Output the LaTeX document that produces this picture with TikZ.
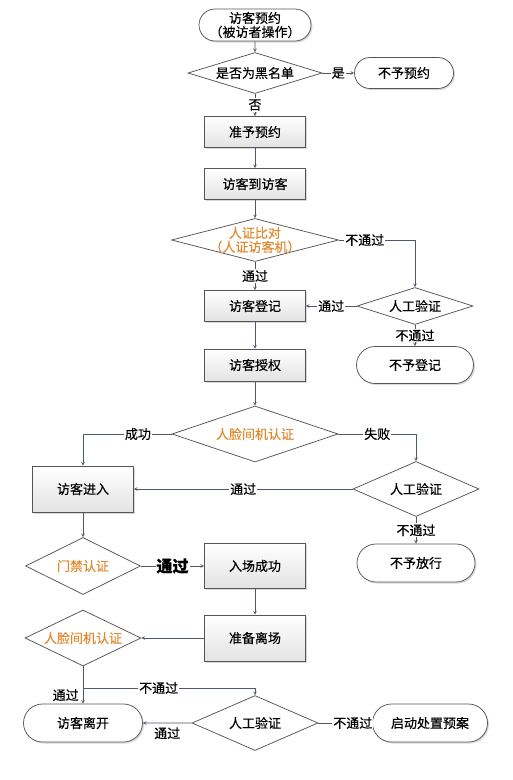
\documentclass[tikz,border=0pt]{standalone}
\usepackage{fontspec}
\setmainfont{Noto Sans CJK SC}[FakeBold=0.4]
\usetikzlibrary{shapes.geometric,shapes.misc,shadows}
\definecolor{xian}{RGB}{78,90,104}
\definecolor{kuang}{RGB}{85,85,85}
\definecolor{cheng}{RGB}{226,138,48}
\tikzset{every picture/.style={line width=0.75pt}}
\tikzset{
  yinying/.style={drop shadow={opacity=0.3,shadow xshift=1.5pt,shadow yshift=-1.5pt}},
  kaishi/.style={rounded rectangle,draw=kuang,fill=white,inner sep=1pt,yinying},
  buzhou/.style={rectangle,draw=kuang,top color=white,bottom color=gray!22,inner sep=1pt,yinying},
  panduan/.style={diamond,draw=kuang,fill=white,inner sep=0pt},
  jiantou/.style={->,>=stealth,xian,semithick},
  biaoqian/.style={fill=white,inner sep=1pt,text=black},
}

\begin{document}
\begin{tikzpicture}[x=1pt,y=-1pt,font=\fontsize{13}{15}\selectfont]
\useasboundingbox (0,0) rectangle (512,780);
\fill[white] (0,0) rectangle (512,780); %背景
% 第一列
\node[kaishi,minimum width=114pt,minimum height=32pt,align=center,font=\fontsize{13}{14}\selectfont] (yuyue) at (255,25) {访客预约\\（被访者操作）};
\node[panduan,minimum width=134pt,minimum height=41pt,label={center:是否为黑名单}] (heimingdan) at (255,73) {};
\node[kaishi,minimum width=101pt,minimum height=31pt] (buyu) at (404,73) {不予预约};
\node[buzhou,minimum width=101pt,minimum height=31pt] (zhunyu) at (255,132) {准予预约};
\node[buzhou,minimum width=101pt,minimum height=31pt] (daofang) at (255,184) {访客到访客};
\node[panduan,minimum width=167pt,minimum height=43pt,label={[text=cheng,align=center,font=\fontsize{13}{14}\selectfont]center:人证比对\\（人证访客机）}] (renzheng) at (255,240) {};
\node[panduan,minimum width=116pt,minimum height=37pt,label={center:人工验证}] (rengong1) at (415,306) {};
\node[buzhou,minimum width=101pt,minimum height=31pt] (dengji) at (255,306) {访客登记};
\node[kaishi,minimum width=119pt,minimum height=37pt] (budengji) at (415,365) {不予登记};
\node[buzhou,minimum width=101pt,minimum height=32pt] (shouquan) at (255,365) {访客授权};
\node[panduan,minimum width=166pt,minimum height=56pt,label={[text=cheng]center:人脸间机认证}] (renlian1) at (255,434) {};
% 入场
\node[buzhou,minimum width=101pt,minimum height=46pt] (jinru) at (83,489) {访客进入};
\node[panduan,minimum width=126pt,minimum height=55pt,label={center:人工验证}] (rengong2) at (416,489) {};
\node[kaishi,minimum width=120pt,minimum height=38pt] (bufangxing) at (416,563) {不予放行};
\node[panduan,minimum width=115pt,minimum height=57pt,label={[text=cheng]center:门禁认证}] (menjin) at (83,566) {};
\node[buzhou,minimum width=101pt,minimum height=45pt] (ruchang) at (255,566) {入场成功};
% 离场
\node[buzhou,minimum width=101pt,minimum height=46pt] (lichang) at (255,638) {准备离场};
\node[panduan,minimum width=116pt,minimum height=56pt,label={[text=cheng]center:人脸间机认证}] (renlian2) at (83,638) {};
\node[kaishi,minimum width=121pt,minimum height=38pt] (likai) at (83,723) {访客离开};
\node[panduan,minimum width=126pt,minimum height=55pt,label={center:人工验证}] (rengong3) at (255,723) {};
\node[kaishi,minimum width=117pt,minimum height=38pt] (yuan) at (430,723) {启动处置预案};
\coordinate (fencha) at (83,688); %分叉点

% 连线
\draw[jiantou] (yuyue) -- (heimingdan);
\draw[jiantou] (heimingdan) -- node[biaoqian]{是} (buyu);
\draw[jiantou] (heimingdan) -- node[biaoqian]{否} (zhunyu);
\draw[jiantou] (zhunyu) -- (daofang);
\draw[jiantou] (daofang) -- (renzheng);
\draw[jiantou] (renzheng.east) -| node[biaoqian,pos=0.17]{不通过} (rengong1.north);
\draw[jiantou] (renzheng) -- node[biaoqian]{通过} (dengji);
\draw[jiantou] (rengong1) -- node[biaoqian]{通过} (dengji);
\draw[jiantou] (rengong1) -- node[biaoqian]{不通过} (budengji);
\draw[jiantou] (dengji) -- (shouquan);
\draw[jiantou] (shouquan) -- (renlian1);
\draw[jiantou] (renlian1.west) -| node[biaoqian,pos=0.19]{成功} (jinru.north);
\draw[jiantou] (renlian1.east) -| node[biaoqian,pos=0.25]{失败} (rengong2.north);
\draw[jiantou] (rengong2) -- node[biaoqian]{通过} (jinru);
\draw[jiantou] (rengong2) -- node[biaoqian]{不通过} (bufangxing);
\draw[jiantou] (jinru) -- (menjin);
\draw[jiantou] (menjin) -- node[biaoqian,font=\fontsize{16}{18}\selectfont\bfseries]{通过} (ruchang);
\draw[jiantou] (ruchang) -- (lichang);
\draw[jiantou] (lichang) -- (renlian2);
\draw[xian,semithick] (renlian2.south) -- (fencha);
\draw[jiantou] (fencha) -- node[pos=0.45,left=3pt,inner sep=1pt,text=black]{通过} (likai.north);
\draw[jiantou] (fencha) -| node[biaoqian,pos=0.22]{不通过} (rengong3.north);
\draw[jiantou] (rengong3) -- node[below=3pt,inner sep=1pt,text=black]{通过} (likai);
\draw[xian,semithick] (rengong3) -- node[biaoqian,pos=0.64]{不通过} (yuan);
\end{tikzpicture}
\end{document}
